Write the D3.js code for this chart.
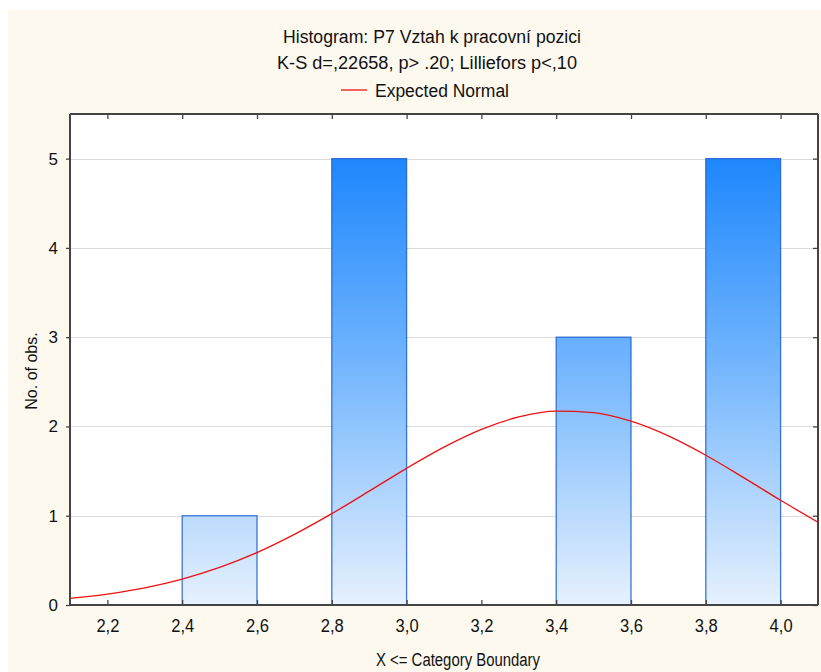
<!DOCTYPE html>
<html>
<head>
<meta charset="utf-8">
<script src="https://cdn.jsdelivr.net/npm/d3@7"></script>
<style>
  html, body { margin: 0; padding: 0; background: #ffffff; }
  svg { display: block; }
  text { font-family: Arial, "Liberation Sans", sans-serif; fill: #111; }
</style>
</head>
<body>
<script>
// Histogram bins (upper boundary convention: X <= boundary)
const binStarts = [2.2, 2.4, 2.6, 2.8, 3.0, 3.2, 3.4, 3.6, 3.8];
const binCounts = [0, 1, 0, 5, 0, 0, 3, 0, 5];
const binWidth = 0.2;

// Expected normal curve, sampled every 0.1
const normalX = [2.1, 2.2, 2.3, 2.4, 2.5, 2.6, 2.7, 2.8, 2.9, 3.0, 3.1,
                 3.2, 3.3, 3.4, 3.5, 3.6, 3.7, 3.8, 3.9, 4.0, 4.1];
const normalY = [0.075, 0.123, 0.192, 0.290, 0.421, 0.587, 0.791, 1.023, 1.275, 1.531, 1.768,
                 1.967, 2.106, 2.171, 2.155, 2.059, 1.894, 1.677, 1.430, 1.173, 0.927];

const xTicks = [2.2, 2.4, 2.6, 2.8, 3.0, 3.2, 3.4, 3.6, 3.8, 4.0];
const yTicks = [0, 1, 2, 3, 4, 5];

const titleLine1 = "Histogram: P7 Vztah k pracovní pozici";
const titleLine2 = "K-S d=,22658, p> .20; Lilliefors p<,10";
const legendLabel = "Expected Normal";
const xLabel = "X <= Category Boundary";
const yLabel = "No. of obs.";

const W = 821, H = 672;
const plot = { left: 70, right: 818, top: 114, bottom: 605 };

const svg = d3.select("body").append("svg")
  .attr("width", W).attr("height", H);

// panel background
svg.append("rect")
  .attr("x", 8).attr("y", 10).attr("width", W - 8).attr("height", H - 10)
  .attr("fill", "#fdf9ef");

const x = d3.scaleLinear().domain([2.1, 4.1]).range([plot.left, plot.right]);
const y = d3.scaleLinear().domain([0, 5.5]).range([plot.bottom, plot.top]);

// plot area
svg.append("rect")
  .attr("x", plot.left).attr("y", plot.top)
  .attr("width", plot.right - plot.left).attr("height", plot.bottom - plot.top)
  .attr("fill", "#ffffff");

// bar gradient spans value 5 → 0
const defs = svg.append("defs");
const grad = defs.append("linearGradient")
  .attr("id", "barGrad")
  .attr("gradientUnits", "userSpaceOnUse")
  .attr("x1", 0).attr("x2", 0)
  .attr("y1", y(5)).attr("y2", y(0));
grad.append("stop").attr("offset", "0%").attr("stop-color", "#1e87fd");
grad.append("stop").attr("offset", "45%").attr("stop-color", "#70b4fd");
grad.append("stop").attr("offset", "100%").attr("stop-color", "#e6f1fd");

defs.append("clipPath").attr("id", "plotClip")
  .append("rect")
  .attr("x", plot.left).attr("y", plot.top)
  .attr("width", plot.right - plot.left).attr("height", plot.bottom - plot.top);

// horizontal grid
svg.append("g")
  .selectAll("line")
  .data(yTicks.filter(d => d > 0))
  .join("line")
  .attr("x1", plot.left).attr("x2", plot.right)
  .attr("y1", d => Math.round(y(d)) + 0.5).attr("y2", d => Math.round(y(d)) + 0.5)
  .attr("stroke", "#dcdcdc").attr("stroke-width", 1);

// bars
svg.append("g")
  .selectAll("rect")
  .data(binStarts.map((s, i) => ({ s, c: binCounts[i] })).filter(d => d.c > 0))
  .join("rect")
  .attr("x", d => x(d.s))
  .attr("y", d => y(d.c))
  .attr("width", d => x(d.s + binWidth) - x(d.s))
  .attr("height", d => y(0) - y(d.c))
  .attr("fill", "url(#barGrad)")
  .attr("stroke", "#1f5fd0")
  .attr("stroke-opacity", 0.85)
  .attr("stroke-width", 1.3);

// expected normal curve
const curvePts = normalX.map((v, i) => [v, normalY[i]]);
svg.append("path")
  .datum(curvePts)
  .attr("clip-path", "url(#plotClip)")
  .attr("d", d3.line().x(d => x(d[0])).y(d => y(d[1])).curve(d3.curveMonotoneX))
  .attr("fill", "none")
  .attr("stroke", "#ee1111")
  .attr("stroke-width", 1.3);

// axes
const axisColor = "#444";
const bottomAxis = svg.append("g")
  .attr("transform", `translate(0,${plot.bottom})`)
  .call(d3.axisBottom(x).tickValues(xTicks).tickSize(-5).tickPadding(14)
    .tickFormat(d => d3.format(".1f")(d).replace(".", ",")));
const topAxis = svg.append("g")
  .attr("transform", `translate(0,${plot.top})`)
  .call(d3.axisTop(x).tickValues(xTicks).tickSize(-5).tickFormat(""));
const leftAxis = svg.append("g")
  .attr("transform", `translate(${plot.left},0)`)
  .call(d3.axisLeft(y).tickValues(yTicks).tickSize(4).tickPadding(8).tickFormat(d3.format("d")));
const rightAxis = svg.append("g")
  .attr("transform", `translate(${plot.right},0)`)
  .call(d3.axisRight(y).tickValues(yTicks).tickSize(-5).tickFormat(""));

[bottomAxis, topAxis, leftAxis, rightAxis].forEach(g => {
  g.select(".domain").attr("stroke", axisColor).attr("stroke-width", 2);
  g.selectAll(".tick line").attr("stroke", axisColor).attr("stroke-width", 1.3);
  g.selectAll(".tick text")
    .attr("font-family", "Arial, 'Liberation Sans', sans-serif")
    .attr("font-size", 17).attr("fill", "#111");
});
bottomAxis.selectAll(".domain").attr("d", `M${plot.left},0H${plot.right}`);
topAxis.selectAll(".domain").attr("d", `M${plot.left},0H${plot.right}`);
leftAxis.selectAll(".domain").attr("d", `M0,${plot.bottom}V${plot.top}`);
rightAxis.selectAll(".domain").attr("d", `M0,${plot.bottom}V${plot.top}`);
bottomAxis.selectAll(".tick text")
  .attr("font-size", 18)
  .attr("textLength", 23)
  .attr("lengthAdjust", "spacingAndGlyphs");

// condensed text helper
function narrowText(xPos, yPos, str, len, anchor) {
  return svg.append("text")
    .attr("x", xPos).attr("y", yPos)
    .attr("text-anchor", anchor || "middle")
    .attr("font-size", 18)
    .attr("textLength", len)
    .attr("lengthAdjust", "spacingAndGlyphs")
    .text(str);
}

// titles
narrowText(432, 43, titleLine1, 298);
narrowText(427, 69, titleLine2, 300);

// legend
svg.append("line")
  .attr("x1", 341).attr("x2", 367).attr("y1", 90).attr("y2", 90)
  .attr("stroke", "#ee1111").attr("stroke-width", 1.3);
narrowText(375, 97, legendLabel, 134, "start");

// axis labels
narrowText(458, 666, xLabel, 164);
svg.append("text")
  .attr("transform", `translate(37,371) rotate(-90)`)
  .attr("text-anchor", "middle")
  .attr("font-size", 16).text(yLabel);
</script>
</body>
</html>
